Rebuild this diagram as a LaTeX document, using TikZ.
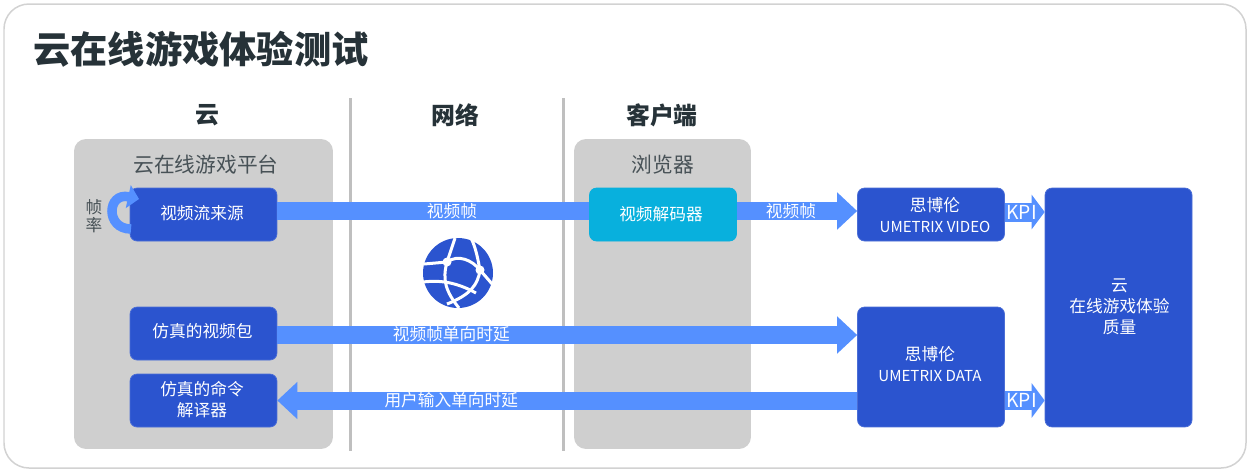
\documentclass[tikz,border=0pt]{standalone}
\usepackage{fontspec}
\setmainfont{Noto Sans CJK SC}
\usepackage{xcolor}
\usetikzlibrary{arrows.meta,positioning,calc}
\definecolor{boxblue}{HTML}{2B54CF}
\definecolor{flowblue}{HTML}{5590FF}
\definecolor{panelgray}{HTML}{CFCFCF}
\definecolor{decodercyan}{HTML}{08B0DD}
\definecolor{titleink}{HTML}{263238}
\newcommand{\latinsize}{\fontsize{8.6}{12}\selectfont}
\tikzset{
panel/.style={fill=panelgray,rounded corners=0.24cm,inner sep=0pt,minimum width=#1,minimum height=6.2cm},
unit/.style={fill=boxblue,draw=boxblue!85!white,rounded corners=0.14cm,inner sep=0pt,align=center,text=white,minimum width=2.94cm,minimum height=1.06cm,font=\fontsize{9.5}{12}\selectfont},
unittext/.style={inner sep=0pt,align=center,text=white,font=\fontsize{9.5}{12}\selectfont},
head/.style={font=\bfseries\fontsize{13.6}{16}\selectfont,text=titleink},
flowlabel/.style={text=white,inner sep=0pt,font=\fontsize{9.5}{12}\selectfont},
kpilabel/.style={text=white,inner sep=0pt,font=\fontsize{11}{14}\selectfont},
flow/.style={draw=flowblue,line width=0.36cm},
flowtip/.style={flow,-{Triangle[length=0.4cm,width=0.72cm]}},
kpi/.style={draw=flowblue,line width=0.38cm,-{Triangle[length=0.26cm,width=0.68cm]}},
divider/.style={draw=gray!50,line width=0.05cm},
web/.style={draw=white,line width=0.06cm}
}
\begin{document}
\begin{tikzpicture}
[x=0.02cm,y=-0.02cm]
\useasboundingbox (0,0) rectangle (1250,474);
\draw[draw=gray!35,fill=white,line width=0.03cm,rounded corners=0.5cm] (4,4) rectangle (1246,468);
\node (title) at (33,49)[anchor=west,inner sep=0pt,text=titleink,font=\bfseries\fontsize{21.2}{25}\selectfont] {云在线游戏体验测试};

% columns
\node (hcloud) at (207,115)[head] {云};
\node (hnet) at (455,115)[head] {网络};
\node (hclient) at (662,115)[head] {客户端};
\coordinate (d1a) at (350.5,98);
\coordinate (d1b) at (350.5,451);
\coordinate (d2a) at (563.5,98);
\coordinate (d2b) at (563.5,451);
\draw[divider] (d1a) -- (d1b);
\draw[divider] (d2a) -- (d2b);

\node (pcloud) at (203.5,294)[panel=5.18cm] {};
\node (pclient) at (662.5,294)[panel=3.54cm] {};
\node (tcloud) at (206,165)[text=titleink!85,font=\fontsize{11.8}{14}\selectfont] {云在线游戏平台};
\node (tclient) at (663,165)[text=titleink!85,font=\fontsize{11.8}{14}\selectfont] {浏览器};

% units
\node (source) at (203.5,214.5)[unit] {};
\node (decoder) at (663,214.5)[unit,fill=decodercyan,draw=decodercyan] {};
\node (video) at (931,214.5)[unit] {};
\node (packet) at (203.5,333.5)[unit] {};
\node (command) at (203.5,400.5)[unit] {};
\node (data) at (931,367)[unit,minimum height=2.4cm] {};
\node (quality) at (1118.5,307.5)[unit,minimum height=4.78cm] {};

\node (tsource) at (202,213)[unittext] {视频流来源};
\node (tdecoder) at (661,214)[unittext] {视频解码器};
\node (tvideo) at (935,215)[unittext] {思博伦\\{\latinsize UMETRIX VIDEO}};
\node (tpacket) at (202.5,331)[unittext] {仿真的视频包};
\node (tcommand) at (202,400)[unittext] {仿真的命令\\解译器};
\node (tdata) at (930,364)[unittext] {思博伦\\{\latinsize UMETRIX DATA}};
\node (tquality) at (1119.5,307)[unittext] {云\\在线游戏体验\\质量};

% flows
\draw[flow] ([yshift=0.07cm]source.east) -- node [pos=0.56,flowlabel] {视频帧} ([yshift=0.07cm]decoder.west);
\draw[flowtip] ([yshift=0.07cm]decoder.east) -- node [pos=0.45,flowlabel] {视频帧} ([yshift=0.07cm]video.west);
\draw[flowtip] ([yshift=-0.03cm]packet.east) -- node [pos=0.3,flowlabel,yshift=0.01cm] {视频帧单向时延} ([yshift=-0.03cm]packet.east -| data.west);
\draw[flowtip] (data.west |- command.east) -- node [pos=0.7,flowlabel] {用户输入单向时延} (command.east);
\draw[kpi] ([yshift=0.05cm]video.east) -- node [pos=0.42,kpilabel] {KPI} ([yshift=0.05cm]video.east -| quality.west);
\draw[kpi] (data.east |- command.east) -- node [pos=0.42,kpilabel] {KPI} (quality.west |- command.east);

% frame rate loop
\node (rate) at (94,216)[align=center,inner sep=0pt,text=titleink!85,font=\fontsize{9.5}{10.5}\selectfont] {帧\\率};
\coordinate (l1) at (131,229);
\coordinate (l2) at (139,199);
\draw[flowblue,line width=0.19cm,-{Triangle[length=0.22cm,width=0.46cm]}] (l1) .. controls (105,229) and (107,192) .. (l2);

% globe
\node (globe) at (458,273)[circle,fill=boxblue,minimum size=1.4cm,inner sep=0pt] {};
\coordinate (h1) at (447,262);
\coordinate (h2) at (480,270);
\draw[web] (455,238) -- (h1) -- (424,264);
\draw[web] (h1) .. controls (442,280) and (446,292) .. (459,308);
\draw[web] (h1) .. controls (458,254) and (472,260) .. (h2);
\draw[web] (471,238) .. controls (476,248) and (478,260) .. (h2);
\draw[web] (h2) -- (493,285);
\draw[web] (h2) .. controls (478,285) and (470,295) .. (447,304);
\draw[web] (423,282) .. controls (440,280) and (456,282) .. (476,293);
\fill[white] (h1) circle (0.09cm) (h2) circle (0.09cm);
\end{tikzpicture}
\end{document}
